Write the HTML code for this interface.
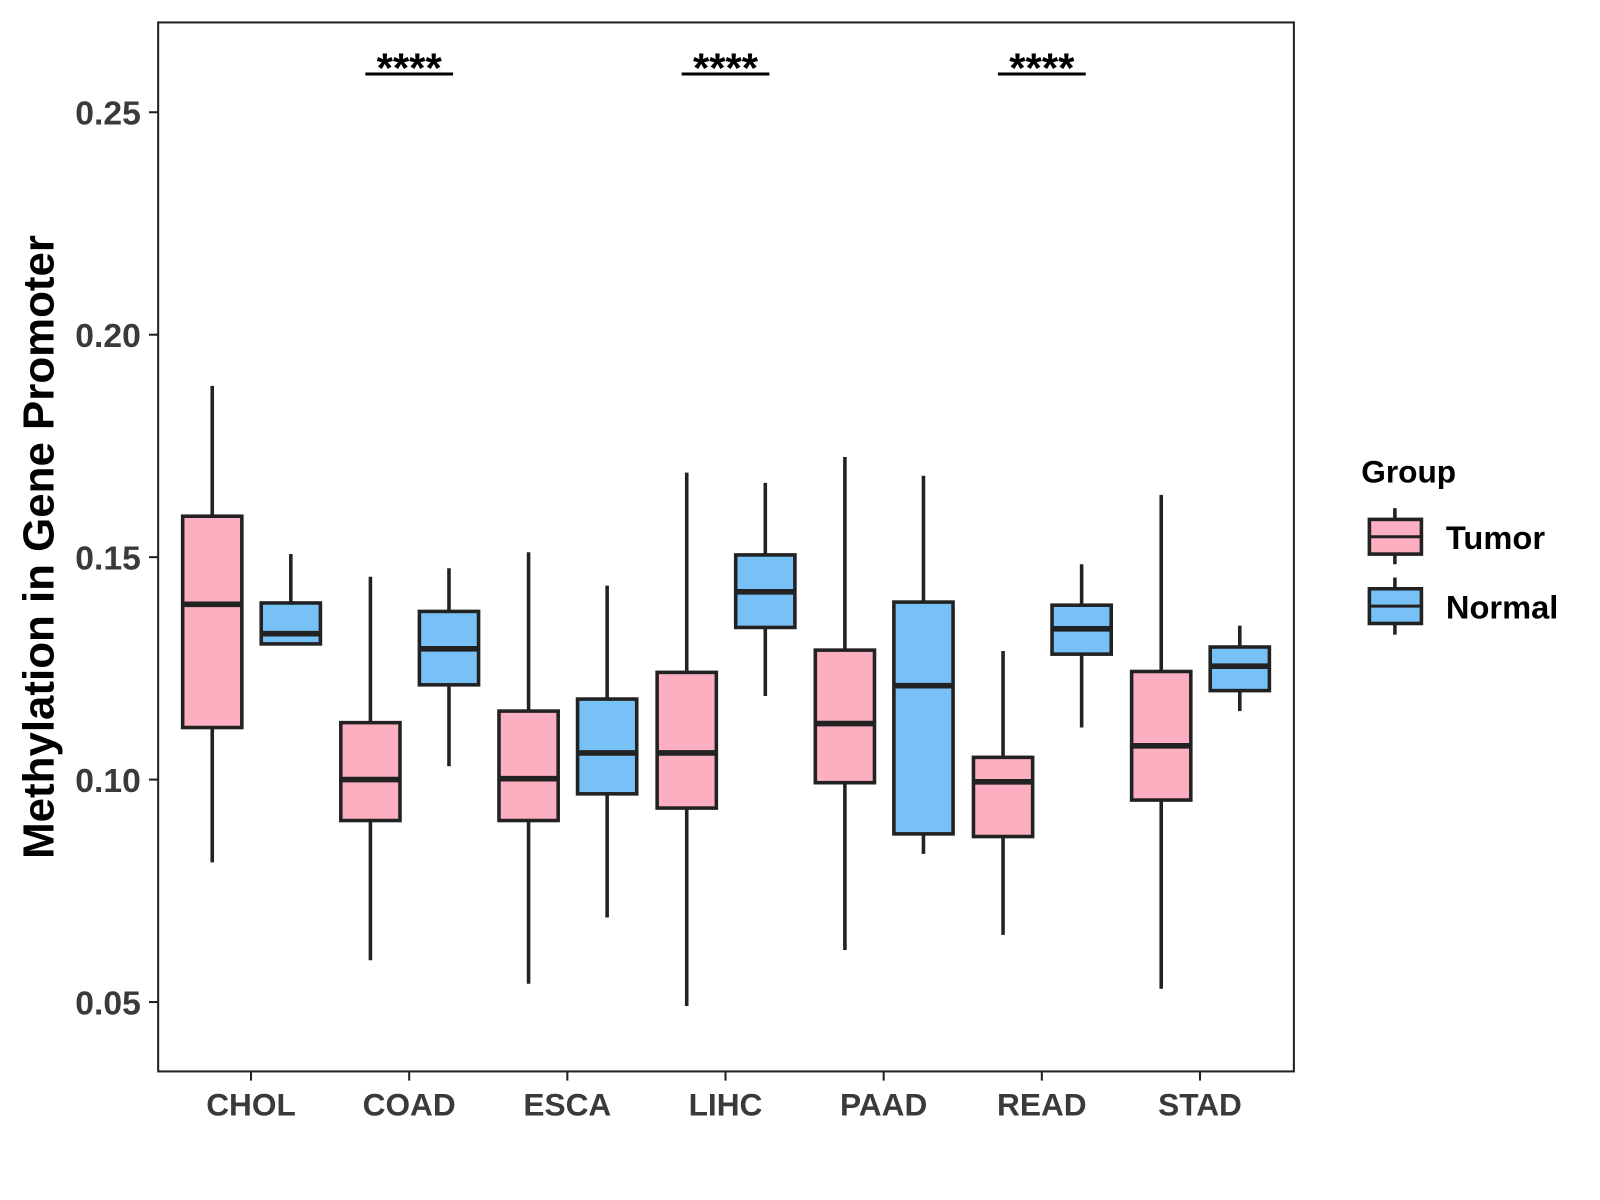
<!DOCTYPE html>
<html><head><meta charset="utf-8"><style>
body{margin:0;background:#fff;}
svg{display:block;font-family:"Liberation Sans",Arial,sans-serif;}
</style></head><body>
<svg id="chart" width="1600" height="1200" viewBox="0 0 1568 1176">
<rect x="155" y="22" width="1113" height="1028" fill="#fff" stroke="#222" stroke-width="2"/>
<g id="marks"></g>
<g id="axes"></g>
<text x="38" y="536" transform="rotate(-90 38 536)" text-anchor="middle" dominant-baseline="central" font-size="43" font-weight="bold" fill="#000">Methylation in Gene Promoter</text>
<g>
<text x="1334" y="473" font-size="31" font-weight="bold" fill="#000">Group</text>
<g>
<line x1="1367" y1="498" x2="1367" y2="553" stroke="#222" stroke-width="3.5"/>
<rect x="1342" y="509" width="51" height="34" fill="#FBAFC0" stroke="#222" stroke-width="3.5"/>
<line x1="1342" y1="526" x2="1393" y2="526" stroke="#222" stroke-width="3"/>
<text x="1417" y="538" font-size="32" font-weight="bold" fill="#000">Tumor</text>
</g>
<g>
<line x1="1367" y1="566" x2="1367" y2="622" stroke="#222" stroke-width="3.5"/>
<rect x="1342" y="577" width="51" height="34" fill="#78C1F7" stroke="#222" stroke-width="3.5"/>
<line x1="1342" y1="594" x2="1393" y2="594" stroke="#222" stroke-width="3"/>
<text x="1417" y="606" font-size="32" font-weight="bold" fill="#000">Normal</text>
</g>
</g>
</svg>
<script>
const categories = ["CHOL","COAD","ESCA","LIHC","PAAD","READ","STAD"];
const tumorLow = [0.0814,0.0594,0.0541,0.0491,0.0617,0.0651,0.0530];
const tumorQ1 = [0.1117,0.0908,0.0908,0.0936,0.0993,0.0872,0.0954];
const tumorMed = [0.1394,0.1000,0.1002,0.1060,0.1126,0.0995,0.1076];
const tumorQ3 = [0.1592,0.1128,0.1154,0.1241,0.1291,0.1050,0.1243];
const tumorHigh = [0.1885,0.1456,0.1511,0.1690,0.1725,0.1289,0.1640];
const normalLow = [0.1305,0.1030,0.0690,0.1188,0.0833,0.1117,0.1154];
const normalQ1 = [0.1305,0.1213,0.0968,0.1342,0.0878,0.1282,0.1200];
const normalMed = [0.1328,0.1294,0.1060,0.1422,0.1211,0.1339,0.1255];
const normalQ3 = [0.1397,0.1378,0.1181,0.1505,0.1399,0.1392,0.1298];
const normalHigh = [0.1507,0.1475,0.1436,0.1667,0.1683,0.1484,0.1346];
const yTicks = [0.05,0.10,0.15,0.20,0.25];
const yTickLabels = ["0.05","0.10","0.15","0.20","0.25"];
const sigCategories = ["COAD","LIHC","READ"];
const sigLabels = ["****","****","****"];

const NS="http://www.w3.org/2000/svg";
function y(v){return 110+(0.25-v)*4360;}
function x(i){return 246+i*155;}
function mk(tag,attrs,parent){const e=document.createElementNS(NS,tag);for(const k in attrs)e.setAttribute(k,attrs[k]);parent.appendChild(e);return e;}
const marks=document.getElementById('marks'), axes=document.getElementById('axes');
function box(cx,lo,q1,md,q3,hi,fill,name){
  const g=mk('g',{},marks);
  
  
  mk('line',{x1:cx,x2:cx,y1:y(hi),y2:y(q3),stroke:'#222','stroke-width':3.5},g);
  mk('line',{x1:cx,x2:cx,y1:y(q1),y2:y(lo),stroke:'#222','stroke-width':3.5},g);
  mk('rect',{x:cx-29,y:y(q3),width:58,height:Math.max(0,y(q1)-y(q3)),fill:fill,stroke:'#222','stroke-width':3.5},g);
  mk('line',{x1:cx-29,x2:cx+29,y1:y(md),y2:y(md),stroke:'#222','stroke-width':5.5},g);
}
categories.forEach((c,i)=>{
  box(x(i)-38,tumorLow[i],tumorQ1[i],tumorMed[i],tumorQ3[i],tumorHigh[i],'#FBAFC0','box-tumor-'+c.toLowerCase());
  box(x(i)+39,normalLow[i],normalQ1[i],normalMed[i],normalQ3[i],normalHigh[i],'#78C1F7','box-normal-'+c.toLowerCase());
  mk('line',{x1:x(i),x2:x(i),y1:1050,y2:1059,stroke:'#222','stroke-width':2},axes);
  const t=mk('text',{x:x(i),y:1093,'text-anchor':'middle','font-size':31,'font-weight':'bold',fill:'#3a3a3a'},axes);
  t.textContent=c;
  
  
});
yTicks.forEach((v,i)=>{
  mk('line',{x1:146,x2:155,y1:y(v),y2:y(v),stroke:'#222','stroke-width':2},axes);
  const t=mk('text',{x:138,y:y(v)+12,'text-anchor':'end','font-size':33,'font-weight':'bold',fill:'#3a3a3a'},axes);
  t.textContent=yTickLabels[i];
  
  
});
sigCategories.forEach((c,k)=>{
  const i=categories.indexOf(c);
  const g=mk('g',{},marks);
  
  
  mk('line',{x1:x(i)-43,x2:x(i)+43,y1:72.5,y2:72.5,stroke:'#000','stroke-width':3},g);
  const t=mk('text',{x:x(i),y:81,'text-anchor':'middle','font-size':41,'font-weight':'bold',fill:'#000'},g);
  t.textContent=sigLabels[k];
});
</script>
</body></html>
